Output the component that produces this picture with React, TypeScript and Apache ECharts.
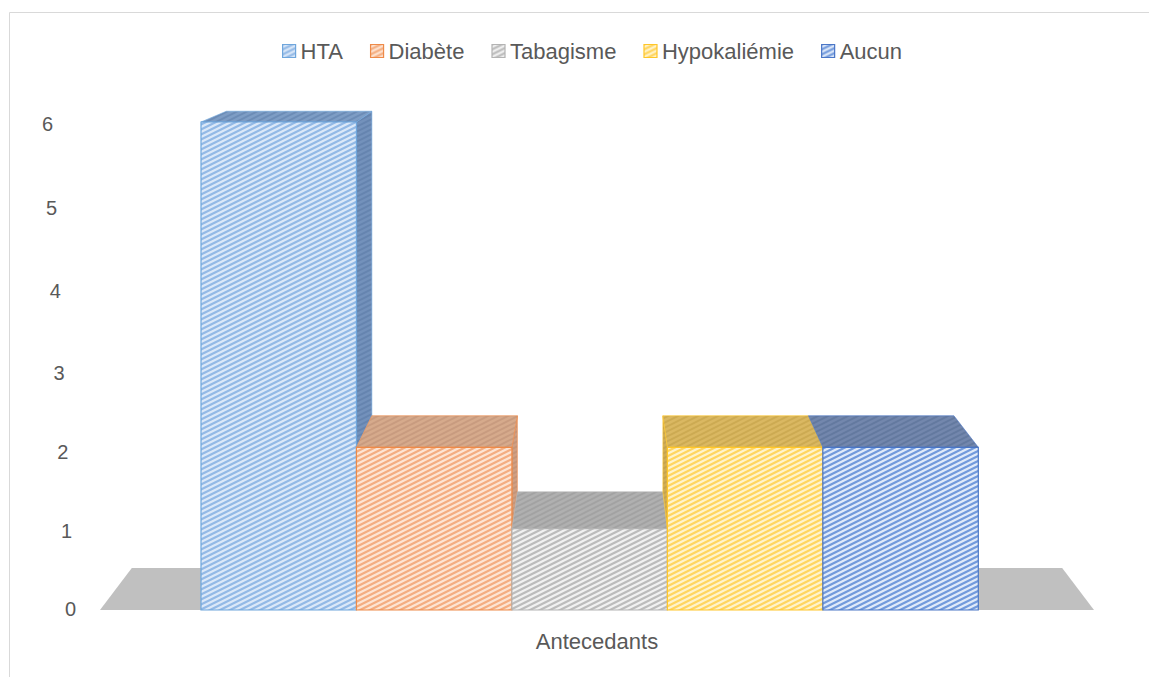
import React, { useEffect, useRef } from "react";
import * as echarts from "echarts";

// ---- data ----
const categories = ["Antecedants"];
const seriesNames = ["HTA", "Diabète", "Tabagisme", "Hypokaliémie", "Aucun"];
const seriesValues = [6, 2, 1, 2, 2];
const yMin = 0;
const yMax = 6;
const yInterval = 1;

// ---- colours (per series) ----
const frontBg = ["#dbe8f8", "#fde4d2", "#f1f1f1", "#fff3cb", "#e0eaf9"];
const frontStripe = ["#93b9e6", "#f4ad80", "#bcbcbc", "#ffd55f", "#729adc"];
const borderColors = ["#6fa6dc", "#ee8a48", "#b3b3b3", "#ffc628", "#4a76c6"];
const topBg = ["#7e9dc5", "#d6aa8c", "#b0b0b0", "#dab862", "#7387ad"];
const topStripe = ["#6c8cb6", "#c89b7f", "#a2a2a2", "#ccaa52", "#63799f"];
const sideBg = ["#7391bb", "#cfa084", "#a8a8a8", "#d0ae58", "#6b80a8"];
const sideStripe = ["#6584af", "#c39478", "#9c9c9c", "#c4a24d", "#5e739b"];
const floorColor = "#c0c0c0";

const FONT = "'Liberation Sans', Arial, sans-serif";
const TEXT_COLOR = "#595959";

// perspective: share of the depth toward the eye point, and eye height in axis units
const DEPTH_K = 0.064;
const EYE_VALUE = 8.07;
// bar layout inside the category band
const START_FRACTION = 0.3984;
const BAR_FRACTION = 0.1564;
// tick labels sit on the slanted back wall: horizontal and vertical nudges per tick
const LABEL_SLANT = 3.8;
const labelDrop = [-1, 2, 5, 6.5, 6.5, 5, 2];

function hatchTile(bg: string, fg: string, lineW = 2.2) {
  const c = document.createElement("canvas");
  c.width = 10;
  c.height = 5;
  const ctx = c.getContext("2d")!;
  ctx.fillStyle = bg;
  ctx.fillRect(0, 0, 10, 5);
  ctx.strokeStyle = fg;
  ctx.lineWidth = lineW;
  for (const off of [-5, 0, 5]) {
    ctx.beginPath();
    ctx.moveTo(-2, 6 + off);
    ctx.lineTo(12, -1 + off);
    ctx.stroke();
  }
  return { image: c, repeat: "repeat", imageWidth: 10, imageHeight: 5 } as any;
}

export default function App() {
  const ref = useRef<HTMLDivElement>(null);

  useEffect(() => {
    if (!ref.current) return;
    const chart = echarts.init(ref.current, undefined, { renderer: "svg" });

    const frontPat = seriesNames.map((_, i) => hatchTile(frontBg[i], frontStripe[i]));
    const topPat = seriesNames.map((_, i) => hatchTile(topBg[i], topStripe[i], 2));
    const sidePat = seriesNames.map((_, i) => hatchTile(sideBg[i], sideStripe[i], 2));

    const makeBarSeries = (idx: number) => ({
      type: "custom",
      name: seriesNames[idx],
      z: 3,
      itemStyle: { color: frontStripe[idx] },
      data: [[0, seriesValues[idx]]],
      renderItem: (params: any, api: any) => {
        const v = api.value(1);
        const base = api.coord([0, 0]);
        const band = api.size([1, 0])[0];
        const cx = base[0];
        const vy = api.coord([0, EYE_VALUE])[1];
        const P = (x: number, y: number) => [x + DEPTH_K * (cx - x), y + DEPTH_K * (vy - y)];
        const barW = band * BAR_FRACTION;
        const x0 = cx - band * START_FRACTION + idx * barW;
        const x1 = x0 + barW;
        const yb = base[1];
        const yt = api.coord([0, v])[1];
        const children: any[] = [];

        // side face turned toward the eye point, above the neighbouring bar
        const leftOfEye = (x0 + x1) / 2 < cx;
        const neighbour = leftOfEye ? seriesValues[idx + 1] : seriesValues[idx - 1];
        const low = neighbour === undefined ? 0 : neighbour;
        if (v > low) {
          const sx = leftOfEye ? x1 : x0;
          const yl = api.coord([0, low])[1];
          children.push({
            type: "polygon",
            shape: { points: [[sx, yt], P(sx, yt), P(sx, yl), [sx, yl]] },
            style: { fill: sidePat[idx], stroke: borderColors[idx], lineWidth: 0.6 },
          });
        }
        // top face
        children.push({
          type: "polygon",
          shape: { points: [[x0, yt], [x1, yt], P(x1, yt), P(x0, yt)] },
          style: { fill: topPat[idx], stroke: borderColors[idx], lineWidth: 0.6 },
        });
        // front face
        children.push({
          type: "rect",
          shape: { x: x0, y: yt, width: x1 - x0, height: yb - yt },
          style: { fill: frontPat[idx], stroke: borderColors[idx], lineWidth: 1.2 },
        });
        return { type: "group", children };
      },
    });

    const floorSeries = {
      type: "custom",
      name: "floor",
      z: 1,
      silent: true,
      data: [[0, 0]],
      renderItem: (params: any, api: any) => {
        const base = api.coord([0, 0]);
        const band = api.size([1, 0])[0];
        const cx = base[0];
        const vy = api.coord([0, EYE_VALUE])[1];
        const P = (x: number, y: number) => [x + DEPTH_K * (cx - x), y + DEPTH_K * (vy - y)];
        const xl = cx - band / 2;
        const xr = cx + band / 2;
        const y = base[1];
        return {
          type: "polygon",
          shape: { points: [[xl, y], [xr, y], P(xr, y), P(xl, y)] },
          style: { fill: floorColor },
        };
      },
    };

    const yLabelRich: Record<string, any> = {};
    for (let t = yMin; t <= yMax; t += yInterval) {
      const drop = labelDrop[t] || 0;
      yLabelRich["t" + t] = {
        fontSize: 20,
        color: TEXT_COLOR,
        fontFamily: FONT,
        padding: [Math.max(0, drop * 2), t * LABEL_SLANT, Math.max(0, -drop * 2), 0],
      };
    }

    chart.setOption({
      animation: false,
      textStyle: { fontFamily: FONT },
      graphic: [
        {
          type: "rect",
          shape: { x: 9.5, y: 12.5, width: 1300, height: 800 },
          style: { fill: "none", stroke: "#d9d9d9", lineWidth: 1 },
          silent: true,
        },
      ],
      legend: {
        top: 35,
        left: 277,
        icon: "rect",
        itemWidth: 13,
        itemHeight: 13,
        itemGap: 27,
        textStyle: { fontSize: 22, color: TEXT_COLOR, fontFamily: FONT },
        data: seriesNames.map((n, i) => ({
          name: n,
          itemStyle: { color: frontPat[i], borderColor: borderColors[i], borderWidth: 1.2 },
        })),
      },
      grid: { left: 100, right: 55, top: 122, bottom: 67, containLabel: false },
      xAxis: {
        type: "category",
        data: categories,
        axisLine: { show: false },
        axisTick: { show: false },
        axisLabel: { fontSize: 22, color: TEXT_COLOR, fontFamily: FONT, margin: 20 },
        splitLine: { show: false },
      },
      yAxis: {
        type: "value",
        min: yMin,
        max: yMax,
        interval: yInterval,
        axisLine: { show: false },
        axisTick: { show: false },
        splitLine: { show: false },
        axisLabel: {
          margin: 24,
          formatter: (v: number) => `{t${v}|${v}}`,
          rich: yLabelRich,
        },
      },
      series: [floorSeries, ...seriesNames.map((_, i) => makeBarSeries(i))],
    });

    return () => chart.dispose();
  }, []);

  return (
    <div
      ref={ref}
      style={{ position: "absolute", left: 0, top: 0, width: 1149, height: 677, background: "#ffffff" }}
    />
  );
}
